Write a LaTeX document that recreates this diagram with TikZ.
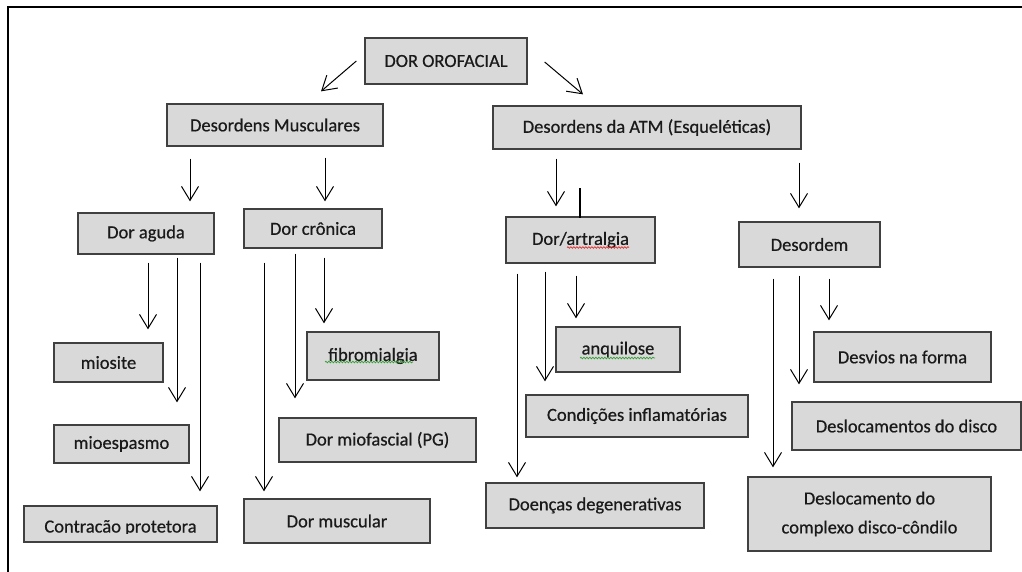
\documentclass[tikz,border=0pt]{standalone}
\usepackage{fontspec}
\setmainfont{Carlito}
\newfontfamily\boxfont{Carlito}[FakeBold=0.6]
\usetikzlibrary{arrows.meta,calc,decorations.pathmorphing}
\definecolor{boxfill}{HTML}{D9D9D9}
\definecolor{boxline}{HTML}{404040}
\definecolor{txt}{HTML}{1A1A1A}
\definecolor{spellred}{HTML}{E03030}
\definecolor{spellgreen}{HTML}{30A030}
\newcommand\varr[5]{\draw[arr] ($(#1.south -| #3,0)+(0,#4)$) -- ($(#2.north -| #3,0)+(0,-#5)$);}
\begin{document}
\begin{tikzpicture}[x=1pt,y=-1pt,
  box/.style={draw=boxline,fill=boxfill,line width=1.3pt,inner sep=0pt,text=txt,
    font=\boxfont\fontsize{18.5}{29}\selectfont,align=center},
  wh/.style 2 args={minimum width=#1pt,minimum height=#2pt},
  arr/.style={-{Straight Barb[length=14pt,width=17pt,line width=1pt]},line width=1pt,black},
  squig/.style={decorate,decoration={snake,amplitude=0.8pt,segment length=3pt},line width=0.7pt}]
\useasboundingbox (0,0) rectangle (1022,572);
% frame
\coordinate (fr1) at (1022,7);
\coordinate (fr2) at (8,7);
\coordinate (fr3) at (8,572);
\draw[line width=2pt,black] (fr1) -- (fr2) -- (fr3);

% level 0
\node[box,wh={162}{46}] (dor) at (446,61) {DOR OROFACIAL};
% level 1
\node[box,wh={216}{42}] (dm) at (275,125) {Desordens Musculares};
\node[box,wh={308}{43}] (atm) at (647,127.5) {Desordens da ATM (Esqueléticas)};
% level 2
\node[box,wh={136}{41}] (aguda) at (146,233.5) {Dor aguda};
\node[box,wh={138}{39}] (cronica) at (313,228.5) {Dor crônica};
\node[box,wh={149}{46}] (artr) at (580.5,240) {Dor/artralgia};
\node[box,wh={141}{45}] (desordem) at (809.5,244.5) {Desordem};
% level 3
\node[box,wh={109}{39}] (miosite) at (108.5,362.5) {miosite};
\node[box,wh={135}{38}] (mioesp) at (121.5,444) {mioespasmo};
\node[box,wh={193}{36}] (contr) at (120.5,524) {};
\begin{scope}
  \clip (24,500) rectangle (217,533);
  \node[text=txt,font=\boxfont\fontsize{18.5}{22}\selectfont,inner sep=0pt,anchor=base] (contrtxt) at (120.5,532.5) {Contracão protetora};
\end{scope}
\node[box,wh={132}{48}] (fibro) at (373,356) {fibromialgia};
\node[box,wh={197}{44}] (miofas) at (377.5,440) {Dor miofascial (PG)};
\node[box,wh={186}{44}] (muscular) at (337,521) {Dor muscular};
\node[box,wh={124}{45}] (anq) at (618,349.5) {anquilose};
\node[box,wh={222}{42}] (cond) at (637,416) {Condições inflamatórias};
\node[box,wh={218}{45}] (doencas) at (595,505.5) {Doenças degenerativas};
\node[box,wh={177}{50}] (desvios) at (902.5,357) {Desvios na forma};
\node[box,wh={229}{48}] (disco) at (906.5,426) {Deslocamentos do disco};
\node[box,wh={243}{74}] (complexo) at (869.5,514) {Deslocamento do\\complexo disco-côndilo};

% spell-check marks
\draw[squig,spellred] ($(artr.center)+(-13.5,7.5)$) -- ($(artr.center)+(48.5,7.5)$);
\draw[squig,spellgreen] ($(fibro.center)+(-48,6)$) -- ($(fibro.center)+(40,6)$);
\draw[squig,spellgreen] ($(anq.center)+(-38,8.5)$) -- ($(anq.center)+(37,8.5)$);

% diagonal arrows
\draw[arr] ($(dor.west)+(-8,0)$) -- ($(dm.north -| 321,0)+(0,-12)$);
\draw[arr] ($(dor.east)+(17,1)$) -- ($(atm.north -| 583,0)+(0,-11)$);

% level 1 -> 2
\varr{dm}{aguda}{190}{12}{11}
\varr{dm}{cronica}{325}{11}{7}
\varr{atm}{artr}{556}{9}{10}
\varr{atm}{desordem}{799}{13}{13}
\draw[line width=1.6pt,black] ($(artr.north -| 580,0)+(0,-28)$) -- ($(artr.north -| 580,0)+(0,2)$);

% level 2 -> 3
\varr{aguda}{miosite}{148}{8}{13}
\varr{aguda}{mioesp}{177}{3}{22}
\varr{aguda}{contr}{200}{8}{14}
\varr{cronica}{muscular}{264}{14}{7}
\varr{cronica}{miofas}{295}{5}{19}
\varr{cronica}{fibro}{324}{9}{8}
\varr{artr}{doencas}{517}{10}{5}
\varr{artr}{cond}{545}{8}{13}
\varr{artr}{anq}{576}{12}{8}
\varr{desordem}{complexo}{773}{11}{9}
\varr{desordem}{disco}{799}{8}{17}
\varr{desordem}{desvios}{829}{11}{11}
\end{tikzpicture}
\end{document}
